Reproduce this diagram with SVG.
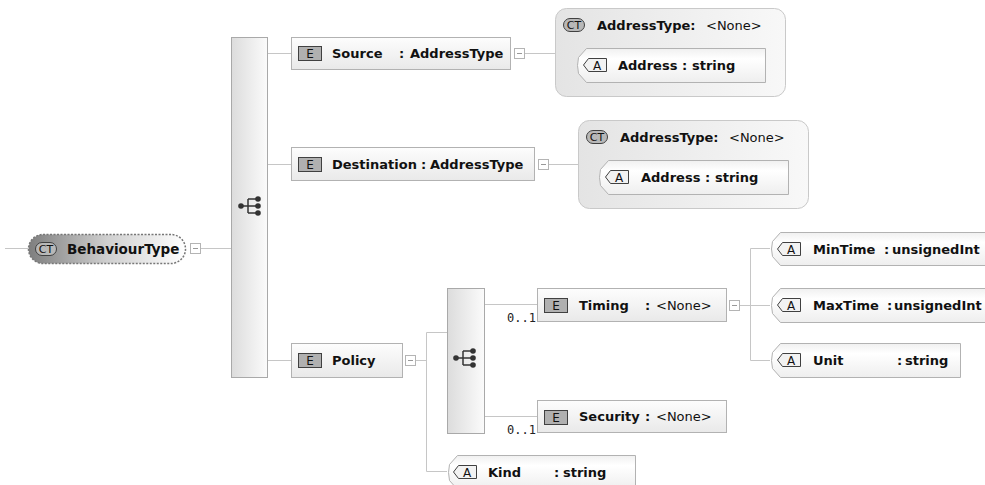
<svg xmlns="http://www.w3.org/2000/svg" width="985" height="485" viewBox="0 0 985 485">
<defs>
<linearGradient id="gEl" x1="0" y1="0" x2="0" y2="1"><stop offset="0" stop-color="#fdfdfd"/><stop offset="1" stop-color="#e9e9e9"/></linearGradient>
<linearGradient id="gCt" x1="0" y1="0" x2="1" y2="0"><stop offset="0" stop-color="#e4e4e4"/><stop offset="1" stop-color="#f8f8f8"/></linearGradient>
<linearGradient id="gSeq" x1="0" y1="0" x2="1" y2="0"><stop offset="0" stop-color="#dcdcdc"/><stop offset="1" stop-color="#fbfbfb"/></linearGradient>
<linearGradient id="gAt" x1="0" y1="0" x2="0" y2="1"><stop offset="0" stop-color="#f0f0f0"/><stop offset="0.3" stop-color="#ffffff"/><stop offset="1" stop-color="#eeeeee"/></linearGradient>
<linearGradient id="gBt" x1="0" y1="0" x2="1" y2="0"><stop offset="0" stop-color="#7e7e7e"/><stop offset="0.5" stop-color="#cfcfcf"/><stop offset="1" stop-color="#ffffff"/></linearGradient>
<g id="seqIcon">
<line x1="-9" y1="0" x2="-2" y2="0" stroke="#333" stroke-width="1.5"/>
<line x1="-2" y1="-7" x2="-2" y2="7" stroke="#333" stroke-width="1.5"/>
<line x1="-2" y1="-7" x2="8" y2="-7" stroke="#333" stroke-width="1.5"/>
<line x1="-2" y1="7" x2="8" y2="7" stroke="#333" stroke-width="1.5"/>
<line x1="-2" y1="0" x2="8" y2="0" stroke="#333" stroke-width="1.5"/>
<circle cx="-9" cy="0" r="2.8" fill="#333"/>
<circle cx="8" cy="-7" r="2.8" fill="#333"/>
<circle cx="8" cy="0" r="2.8" fill="#333"/>
<circle cx="8" cy="7" r="2.8" fill="#333"/>
</g>
<g id="collapse">
<rect x="0.5" y="0.5" width="10" height="10" fill="#fff" stroke="#b4b4b4"/>
<line x1="3" y1="5.5" x2="8" y2="5.5" stroke="#999"/>
</g>
<g id="eIcon">
<rect x="0.5" y="0.5" width="23" height="14" fill="#b0b0b0" stroke="#404040"/>
<text x="12" y="12" text-anchor="middle" font-family="'DejaVu Sans', Verdana, sans-serif" font-size="12" fill="#111">E</text>
</g>
<g id="aIcon">
<path d="M5.5,0.5 H23.5 V13.5 H5.5 L0.5,7 Z" fill="#f2f2f2" stroke="#404040"/>
<text x="14" y="11.5" text-anchor="middle" font-family="'DejaVu Sans', Verdana, sans-serif" font-size="12" fill="#111">A</text>
</g>
<g id="ctIcon">
<rect x="0.5" y="0.5" width="21" height="13" rx="6.5" fill="#b8b8b8" stroke="#404040"/>
<text x="11" y="11" text-anchor="middle" font-family="'DejaVu Sans', Verdana, sans-serif" font-size="11" fill="#111">CT</text>
</g>
</defs>
<style>
.ln{stroke:#c6c6c6;stroke-width:1;fill:none}
.el{fill:url(#gEl);stroke:#b2b2b2}
.ct{fill:url(#gCt);stroke:#c9c9c9}
.seq{fill:url(#gSeq);stroke:#a9a9a9}
.at{fill:url(#gAt);stroke:#b2b2b2}
.b{font-family:"DejaVu Sans",Verdana,sans-serif;font-weight:bold;font-size:13px;fill:#111}
.n{font-weight:normal}
.m{font-family:"DejaVu Sans Mono","Liberation Mono",monospace;font-size:12px;fill:#222}
</style>
<rect width="985" height="485" fill="#fff"/>

<g id="connectors">
<line class="ln" x1="5" y1="248.5" x2="28" y2="248.5"/>
<line class="ln" x1="201" y1="248.5" x2="231" y2="248.5"/>
<line class="ln" x1="268" y1="53.5" x2="291" y2="53.5"/>
<line class="ln" x1="268" y1="164.5" x2="291" y2="164.5"/>
<line class="ln" x1="268" y1="360.5" x2="291" y2="360.5"/>
<line class="ln" x1="525" y1="53.5" x2="555" y2="53.5"/>
<line class="ln" x1="555" y1="65.5" x2="576" y2="65.5"/>
<line class="ln" x1="549" y1="164.5" x2="578" y2="164.5"/>
<line class="ln" x1="578" y1="177.5" x2="598" y2="177.5"/>
<line class="ln" x1="416" y1="360.5" x2="426.5" y2="360.5"/>
<polyline class="ln" points="447,332.5 426.5,332.5 426.5,471.5 447,471.5"/>
<line class="ln" x1="485" y1="304.5" x2="537" y2="304.5"/>
<line class="ln" x1="485" y1="416.5" x2="537" y2="416.5"/>
<line class="ln" x1="740" y1="305.5" x2="770" y2="305.5"/>
<polyline class="ln" points="770,248.5 750.5,248.5 750.5,360.5 770,360.5"/>
</g>

<g id="BehaviourType">
<rect x="28.5" y="234.5" width="157" height="29" rx="14.5" fill="url(#gBt)" stroke="#777" stroke-width="1.5" stroke-dasharray="2,1.5"/>
<use href="#ctIcon" x="35" y="242"/>
<text class="b" x="67" y="253.5" style="font-size:13.5px">BehaviourType</text>
<use href="#collapse" x="190" y="243"/>
</g>

<g id="seq1">
<rect class="seq" x="231.5" y="37.5" width="36" height="340"/>
<use href="#seqIcon" x="250" y="206"/>
</g>

<g id="Source">
<rect class="el" x="291.5" y="37.5" width="219" height="32"/>
<use href="#eIcon" x="298" y="46"/>
<text class="b" x="332" y="58">Source</text>
<text class="b" x="399" y="58">:</text>
<text class="b" x="410" y="58">AddressType</text>
<use href="#collapse" x="514" y="48"/>
</g>

<g id="AddressType1">
<rect class="ct" x="555.5" y="8.5" width="230" height="88" rx="11"/>
<use href="#ctIcon" x="563" y="18"/>
<text class="b" x="597" y="29.5">AddressType:</text>
<text class="b n" x="706" y="29.5">&lt;None&gt;</text>
<path class="at" d="M586.5,48.5 H765.5 V82.5 H586.5 L578.5,73.5 Q576.5,65.5 578.5,57.5 Z"/>
<use href="#aIcon" x="583" y="58"/>
<text class="b" x="618" y="70">Address</text>
<text class="b" x="682" y="70">:</text>
<text class="b" x="692" y="70">string</text>
</g>

<g id="Destination">
<rect class="el" x="291.5" y="147.5" width="243" height="33"/>
<use href="#eIcon" x="298" y="157"/>
<text class="b" x="332" y="169">Destination</text>
<text class="b" x="421" y="169">:</text>
<text class="b" x="430" y="169">AddressType</text>
<use href="#collapse" x="538" y="159"/>
</g>

<g id="AddressType2">
<rect class="ct" x="578.5" y="120.5" width="230" height="88" rx="11"/>
<use href="#ctIcon" x="586" y="130"/>
<text class="b" x="620" y="141.5">AddressType:</text>
<text class="b n" x="729" y="141.5">&lt;None&gt;</text>
<path class="at" d="M608.5,160.5 H788.5 V194.5 H608.5 L600.5,185.5 Q598.5,177.5 600.5,169.5 Z"/>
<use href="#aIcon" x="605" y="170"/>
<text class="b" x="641" y="182">Address</text>
<text class="b" x="705" y="182">:</text>
<text class="b" x="715" y="182">string</text>
</g>

<g id="Policy">
<rect class="el" x="291.5" y="343.5" width="111" height="34"/>
<use href="#eIcon" x="298" y="353"/>
<text class="b" x="332" y="365">Policy</text>
<use href="#collapse" x="405" y="355"/>
</g>

<g id="seq2">
<rect class="seq" x="447.5" y="288.5" width="37" height="145"/>
<use href="#seqIcon" x="465" y="358"/>
</g>

<g id="Timing">
<text class="m" x="507" y="322">0..1</text>
<rect class="el" x="537.5" y="288.5" width="189" height="33"/>
<use href="#eIcon" x="544" y="298"/>
<text class="b" x="579" y="310">Timing</text>
<text class="b" x="645" y="310">:</text>
<text class="b n" x="656" y="310">&lt;None&gt;</text>
<use href="#collapse" x="729" y="300"/>
</g>

<g id="Security">
<text class="m" x="507" y="434">0..1</text>
<rect class="el" x="537.5" y="400.5" width="189" height="32"/>
<use href="#eIcon" x="544" y="410"/>
<text class="b" x="579" y="421">Security</text>
<text class="b" x="645" y="421">:</text>
<text class="b n" x="656" y="421">&lt;None&gt;</text>
</g>

<g id="Kind">
<path class="at" d="M457.5,455.5 H635.5 V489.5 H457.5 L449.5,480.5 Q447.5,472.5 449.5,464.5 Z"/>
<use href="#aIcon" x="453" y="465"/>
<text class="b" x="488" y="477">Kind</text>
<text class="b" x="554" y="477">:</text>
<text class="b" x="563" y="477">string</text>
</g>

<g id="MinTime">
<path class="at" d="M780.5,232.5 H990 V265.5 H780.5 L772.5,256.5 Q770.5,249 772.5,241.5 Z"/>
<use href="#aIcon" x="777" y="242"/>
<text class="b" x="813" y="254">MinTime</text>
<text class="b" x="884" y="254">:</text>
<text class="b" x="892" y="254">unsignedInt</text>
</g>

<g id="MaxTime">
<path class="at" d="M780.5,288.5 H990 V322.5 H780.5 L772.5,313.5 Q770.5,305.5 772.5,297.5 Z"/>
<use href="#aIcon" x="777" y="298"/>
<text class="b" x="813" y="310">MaxTime</text>
<text class="b" x="887" y="310">:</text>
<text class="b" x="894" y="310">unsignedInt</text>
</g>

<g id="Unit">
<path class="at" d="M780.5,343.5 H960.5 V377.5 H780.5 L772.5,368.5 Q770.5,360.5 772.5,352.5 Z"/>
<use href="#aIcon" x="777" y="353"/>
<text class="b" x="813" y="365">Unit</text>
<text class="b" x="897" y="365">:</text>
<text class="b" x="905" y="365">string</text>
</g>
</svg>
